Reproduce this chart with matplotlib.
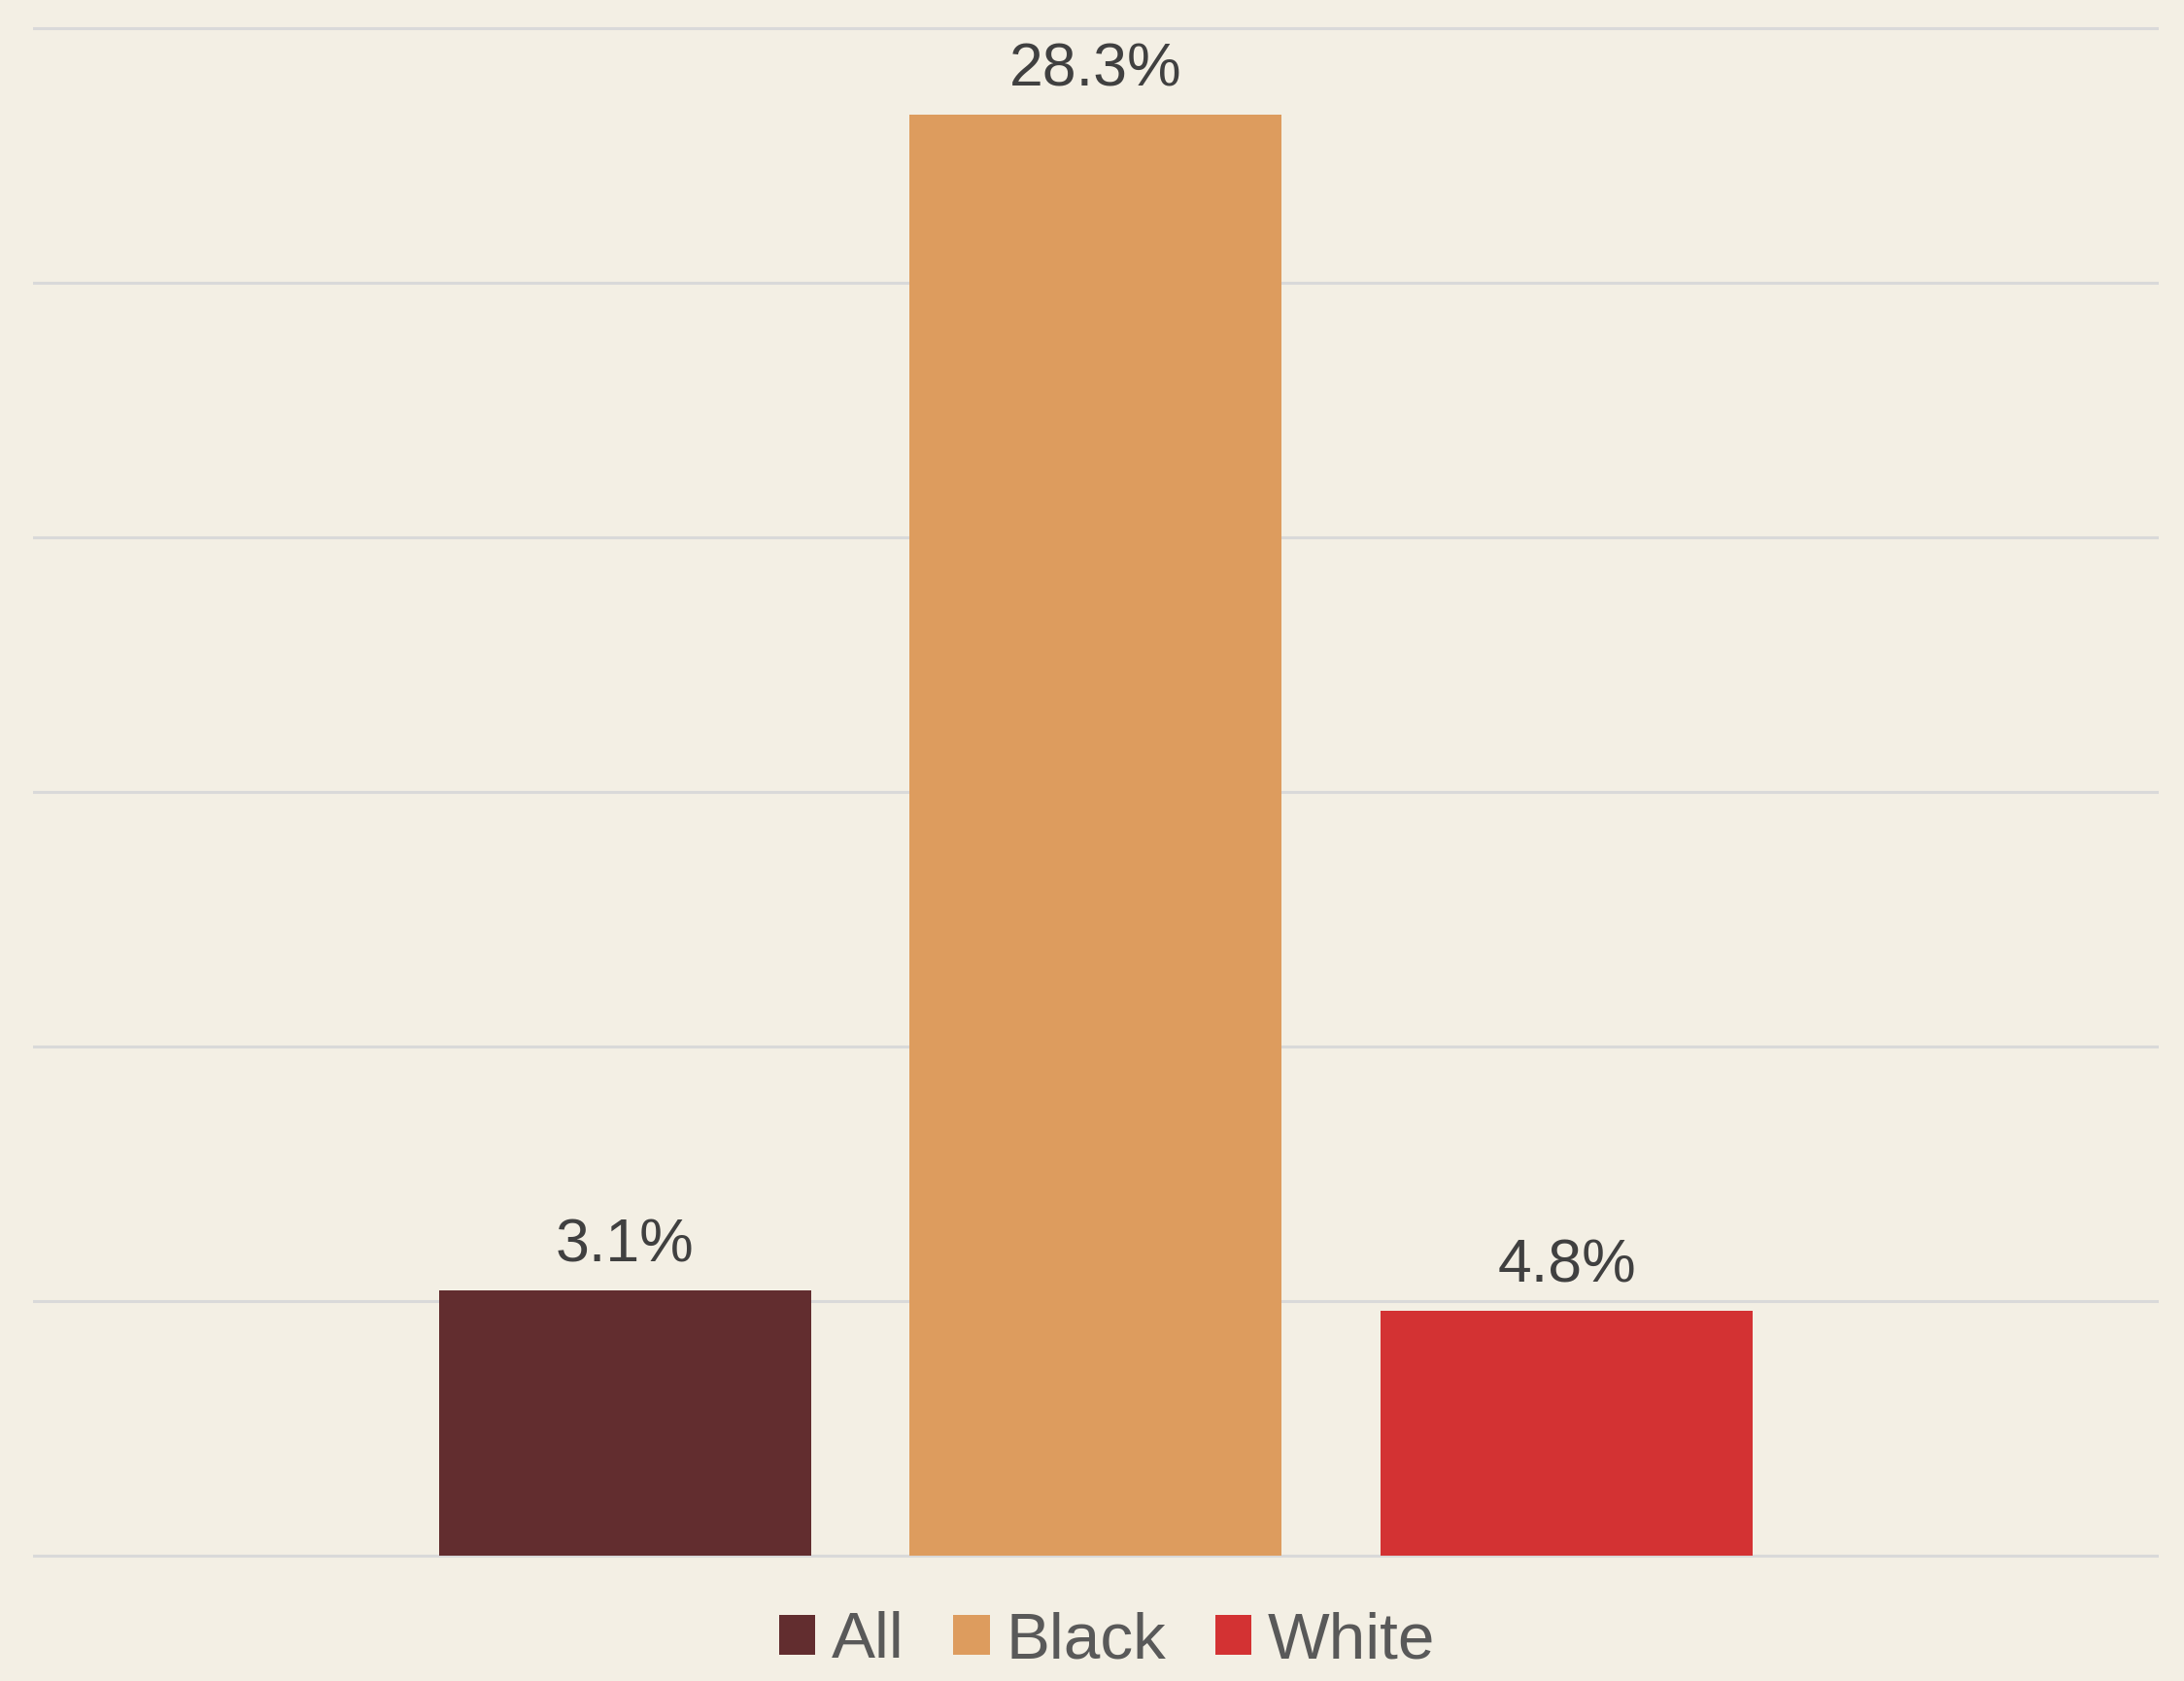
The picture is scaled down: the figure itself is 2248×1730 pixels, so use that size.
import numpy as np
import matplotlib
matplotlib.use('Agg')
import matplotlib.pyplot as plt

# Data (bar heights in %, and the printed labels)
groups = ['All', 'Black', 'White']
heights = [5.2, 28.3, 4.8]
labels = ['3.1%', '28.3%', '4.8%']
colors = ['#622D2F', '#DD9C5E', '#D33233']
yticks = [0, 5, 10, 15, 20, 25, 30]

plt.rcParams['font.family'] = ['Liberation Sans', 'DejaVu Sans']

bg = '#F3EFE4'
fig = plt.figure(figsize=(22.48, 17.30), dpi=100, facecolor=bg)
ax = fig.add_axes([0.0151, 0.0717, 0.9733, 0.9145])
ax.set_facecolor(bg)

x = np.arange(len(groups))
bars = ax.bar(x, heights, width=0.79, color=colors, label=groups, zorder=3)

for b, lab in zip(bars, labels):
    ax.annotate(lab, (b.get_x() + b.get_width() / 2, b.get_height()),
                xytext=(0, 21.6), textcoords='offset points',
                ha='center', va='baseline', fontsize=45, color='#404040')

ax.set_xlim(-1.257, 3.257)
ax.set_ylim(-0.1, 30.1)
ax.set_yticks(yticks)
ax.set_xticks([])
ax.tick_params(axis='y', length=0, labelleft=False)
ax.grid(axis='y', color='#D9D9D9', linewidth=2.2, zorder=0)
for s in ax.spines.values():
    s.set_visible(False)

fig.legend(handles=bars, labels=groups, loc='center', bbox_to_anchor=(0.507, 0.0235),
           ncol=3, frameon=False, fontsize=48.6, labelcolor='#595959',
           handlelength=0.55, handleheight=0.55, handletextpad=0.25,
           columnspacing=0.75, borderpad=0, borderaxespad=0)

fig.savefig('out.png', dpi=100, facecolor=bg)
